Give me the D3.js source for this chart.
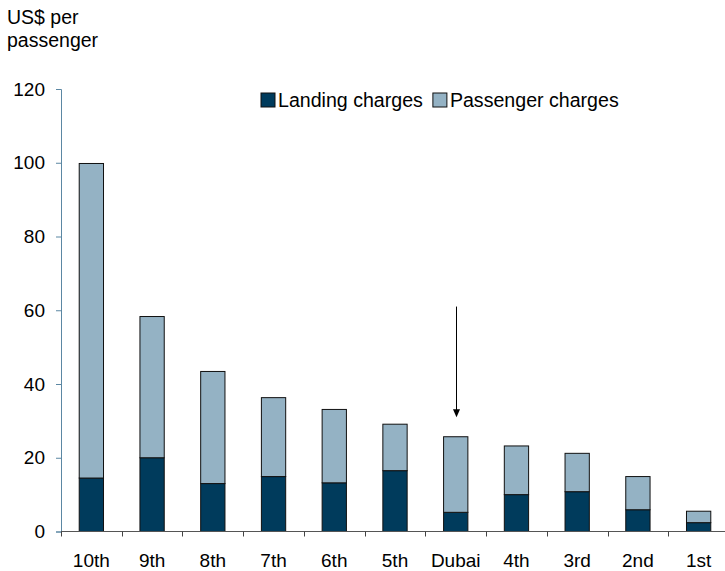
<!DOCTYPE html>
<html>
<head>
<meta charset="utf-8">
<script src="https://cdn.jsdelivr.net/npm/d3@7"></script>
<style>
  html, body { margin: 0; padding: 0; background: #fff; }
  svg { display: block; font-family: "Liberation Sans", Arial, sans-serif; }
</style>
</head>
<body>
<svg id="chart" width="725" height="571"></svg>
<script>
// Airport charges per passenger, ranked
const categories = ["10th", "9th", "8th", "7th", "6th", "5th", "Dubai", "4th", "3rd", "2nd", "1st"];
const landing    = [14.5, 20.0, 13.0, 14.9, 13.2, 16.5, 5.2, 10.0, 10.8, 5.9, 2.4];
const passenger  = [85.3, 38.3, 30.4, 21.4, 19.9, 12.6, 20.5, 13.2, 10.4, 9.0, 3.1];
const yTicks     = [0, 20, 40, 60, 80, 100, 120];
const seriesNames = ["Landing charges", "Passenger charges"];
const highlight  = "Dubai";
const arrowFrom  = 61;   // arrow start (US$)
const arrowTo    = 31;   // arrow tip (US$)

const colors = { "Landing charges": "#003b5c", "Passenger charges": "#94b2c4" };
const FS = 19;

const svg = d3.select("#chart");
const margin = { left: 61, right: -4, top: 89, bottom: 39 };
const W = 725, H = 571;

const x = d3.scaleBand()
  .domain(categories)
  .range([margin.left, W - margin.right])
  .paddingInner(0.6)
  .paddingOuter(0.3);

const y = d3.scaleLinear()
  .domain([0, 120])
  .range([H - margin.bottom - 0.5, margin.top]);

const rows = categories.map((c, i) => ({
  cat: c,
  "Landing charges": landing[i],
  "Passenger charges": passenger[i]
}));
const stack = d3.stack().keys(seriesNames)(rows);

// Bars
svg.append("g")
  .selectAll("g")
  .data(stack)
  .join("g")
  .attr("fill", d => colors[d.key])
  .selectAll("rect")
  .data(d => d)
  .join("rect")
  .attr("x", d => x(d.data.cat))
  .attr("width", x.bandwidth())
  .attr("y", d => y(d[1]))
  .attr("height", d => y(d[0]) - y(d[1]))
  .attr("stroke", "#111")
  .attr("stroke-width", 1);

// Y axis
const yAxis = svg.append("g")
  .attr("transform", `translate(${margin.left},0)`)
  .call(d3.axisLeft(y).tickValues(yTicks).tickSize(5).tickPadding(11).tickFormat(d3.format("d")));
yAxis.select(".domain").attr("stroke", "#5b87a3");
yAxis.selectAll(".tick line").attr("stroke", "#5b87a3");
yAxis.selectAll("text").attr("font-size", FS).attr("fill", "#000")
  .attr("font-family", "Liberation Sans, Arial, sans-serif");

// X axis: baseline with ticks between categories
const xAxisY = y(0);
const xg = svg.append("g");
xg.append("line")
  .attr("x1", margin.left).attr("x2", W + 4)
  .attr("y1", xAxisY).attr("y2", xAxisY)
  .attr("stroke", "#555").attr("stroke-width", 1);
const step = x.step();
const boundaries = categories.map((c, i) => x(c) - x.paddingInner() * step / 2);
boundaries.forEach(bx => {
  xg.append("line")
    .attr("x1", Math.round(bx) + 0.5).attr("x2", Math.round(bx) + 0.5)
    .attr("y1", xAxisY).attr("y2", xAxisY + 5)
    .attr("stroke", "#444");
});
xg.selectAll("text.cat")
  .data(categories)
  .join("text")
  .attr("class", "cat")
  .attr("x", d => x(d) + x.bandwidth() / 2)
  .attr("y", xAxisY + 35.5)
  .attr("text-anchor", "middle")
  .attr("font-size", FS)
  .attr("fill", "#000")
  .text(d => d);

// Y-axis title
svg.append("text").attr("x", 7).attr("y", 24).attr("font-size", FS + 0.5).text("US$ per");
svg.append("text").attr("x", 7).attr("y", 47).attr("font-size", FS + 0.5).text("passenger");

// Legend
const legend = svg.append("g").attr("transform", "translate(261,93)");
let lx = 0;
seriesNames.forEach(name => {
  const g = legend.append("g").attr("transform", `translate(${lx},0)`);
  g.append("rect").attr("width", 14).attr("height", 14)
    .attr("fill", colors[name]).attr("stroke", "#111").attr("stroke-width", 1);
  const t = g.append("text").attr("x", 17).attr("y", 14).attr("font-size", FS + 0.6).text(name);
  lx += 17 + t.node().getComputedTextLength() + 10;
});

// Arrow pointing at the highlighted bar
const ax = Math.round(x(highlight) + x.bandwidth() / 2) + 0.5;
svg.append("line")
  .attr("x1", ax).attr("x2", ax)
  .attr("y1", y(arrowFrom)).attr("y2", y(arrowTo) - 6)
  .attr("stroke", "#000").attr("stroke-width", 1);
svg.append("path")
  .attr("d", `M${ax - 3.5},${y(arrowTo) - 8} L${ax + 3.5},${y(arrowTo) - 8} L${ax},${y(arrowTo)} Z`)
  .attr("fill", "#000");
</script>
</body>
</html>
